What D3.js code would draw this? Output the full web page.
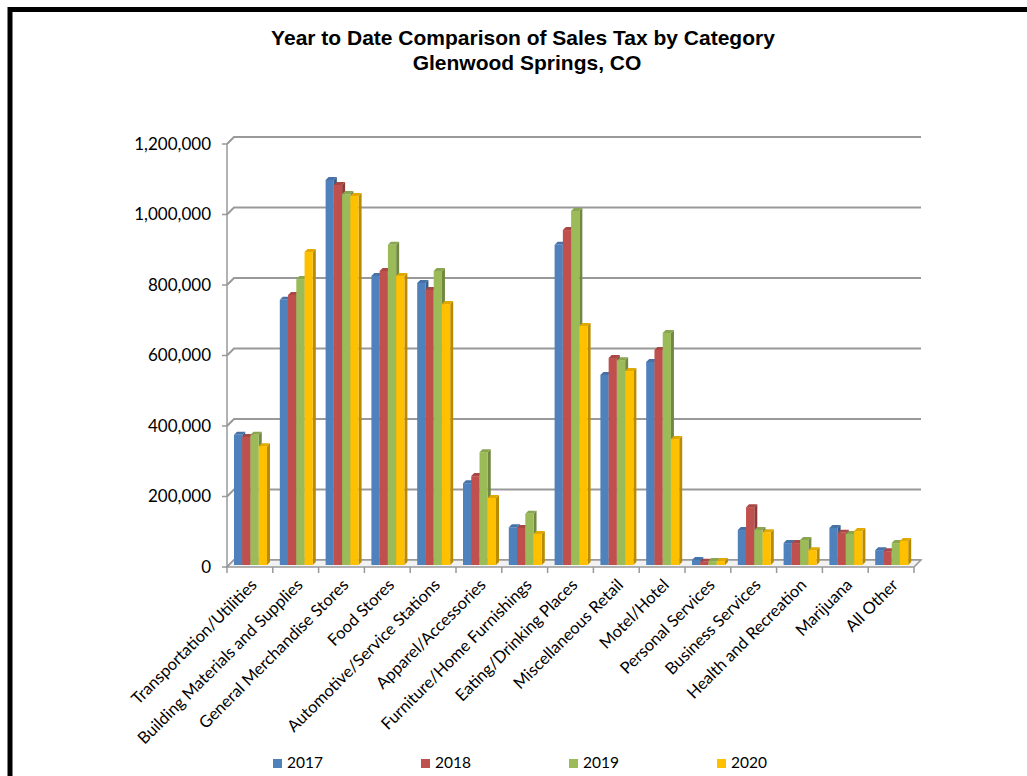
<!DOCTYPE html>
<html>
<head>
<meta charset="utf-8">
<script src="https://cdn.jsdelivr.net/npm/d3@7"></script>
<style>
  body { margin: 0; background: #fff; }
  svg { display: block; }
</style>
</head>
<body>
<div id="chart"></div>
<script>
// data
const categories = [
  "Transportation/Utilities", "Building Materials and Supplies", "General Merchandise Stores",
  "Food Stores", "Automotive/Service Stations", "Apparel/Accessories",
  "Furniture/Home Furnishings", "Eating/Drinking Places", "Miscellaneous Retail",
  "Motel/Hotel", "Personal Services", "Business Services", "Health and Recreation",
  "Marijuana", "All Other"
];
const years = ["2017", "2018", "2019", "2020"];
const sales2017 = [372000, 755000, 1095000, 823000, 803000, 235000, 110000, 911000, 542000, 579000, 17000, 102000, 65000, 108000, 45000];
const sales2018 = [366000, 769000, 1081000, 837000, 783000, 255000, 108000, 953000, 590000, 613000, 12000, 167000, 65000, 94000, 42000];
const sales2019 = [372000, 814000, 1055000, 911000, 837000, 323000, 148000, 1007000, 584000, 661000, 14000, 102000, 74000, 91000, 65000];
const sales2020 = [340000, 891000, 1050000, 823000, 743000, 193000, 91000, 681000, 553000, 360000, 14000, 96000, 45000, 99000, 71000];
const yTicks = [0, 200000, 400000, 600000, 800000, 1000000, 1200000];
const colors = ["#4F81BD", "#C0504D", "#9BBB59", "#FFC000"];

const series = [sales2017, sales2018, sales2019, sales2020];

const width = 1027, height = 776;
const depth = 7;     // 3D wall depth
const barDepth = 3;  // 3D bar depth

const svg = d3.select("#chart").append("svg")
  .attr("width", width)
  .attr("height", height);

svg.append("rect").attr("width", width).attr("height", height).attr("fill", "#fff");

// black frame (only top and left edges show in the reference)
svg.append("path")
  .attr("d", `M10,${height + 5} L10,9.5 L${width + 5},9.5`)
  .attr("fill", "none")
  .attr("stroke", "#000")
  .attr("stroke-width", 5);

// title
const title = svg.append("text")
  .attr("text-anchor", "middle")
  .attr("font-family", "Liberation Sans, Arial, sans-serif")
  .attr("font-weight", "bold")
  .attr("font-size", 21)
  .attr("fill", "#000");
title.append("tspan").attr("x", 523).attr("y", 45).text("Year to Date Comparison of Sales Tax by Category");
title.append("tspan").attr("x", 527).attr("y", 70).text("Glenwood Springs, CO");

const x = d3.scaleBand().domain(categories).range([227, 914]);
const xs = d3.scaleBand().domain(years).range([7, 40]);
const y = d3.scaleLinear().domain([0, 1200000]).range([567, 144]);

const gridColor = "#999";

// back wall gridlines
svg.append("g")
  .selectAll("path")
  .data(yTicks)
  .join("path")
  .attr("d", d => `M${x.range()[0]},${y(d)} L${x.range()[0] + depth},${y(d) - depth} L${x.range()[1] + depth},${y(d) - depth}`)
  .attr("fill", "none")
  .attr("stroke", gridColor)
  .attr("stroke-width", 2);

// floor
const x0 = x.range()[0], x1 = x.range()[1], y0 = y(0);
svg.append("path")
  .attr("d", `M${x0},${y0} L${x1},${y0} L${x1 + depth},${y0 - depth} L${x0 + depth},${y0 - depth} Z`)
  .attr("fill", "#f2f2f2")
  .attr("stroke", gridColor)
  .attr("stroke-width", 1.5);

// front vertical axis line
svg.append("line")
  .attr("x1", x0).attr("x2", x0)
  .attr("y1", y(1200000)).attr("y2", y0)
  .attr("stroke", gridColor)
  .attr("stroke-width", 1.5);

// y ticks + labels
const yAxis = svg.append("g");
yAxis.selectAll("line")
  .data(yTicks)
  .join("line")
  .attr("x1", x0 - 5).attr("x2", x0)
  .attr("y1", d => y(d)).attr("y2", d => y(d))
  .attr("stroke", gridColor)
  .attr("stroke-width", 1.5);
yAxis.selectAll("text")
  .data(yTicks)
  .join("text")
  .attr("x", 211)
  .attr("y", d => y(d))
  .attr("dy", "0.35em")
  .attr("text-anchor", "end")
  .attr("font-family", "Lato, sans-serif")
  .attr("font-size", 17)
  .attr("fill", "#000")
  .text(d => d3.format(",")(d));

// x ticks
svg.append("g")
  .selectAll("line")
  .data(d3.range(categories.length + 1))
  .join("line")
  .attr("x1", i => x0 + i * x.step()).attr("x2", i => x0 + i * x.step())
  .attr("y1", y0).attr("y2", y0 + 6)
  .attr("stroke", gridColor)
  .attr("stroke-width", 1.5);

// bars
const barG = svg.append("g");
categories.forEach((cat, ci) => {
  years.forEach((yr, si) => {
    const v = series[si][ci];
    const bx = x(cat) + xs(yr);
    const bw = xs.bandwidth();
    const top = y(v) - 1;
    const bot = y0 - 2;
    const c = d3.color(colors[si]);
    const g = barG.append("g");
    // side face
    g.append("path")
      .attr("d", `M${bx + bw},${top} L${bx + bw + barDepth},${top - barDepth} L${bx + bw + barDepth},${bot - barDepth} L${bx + bw},${bot} Z`)
      .attr("fill", c.darker(0.9));
    // top face
    g.append("path")
      .attr("d", `M${bx},${top} L${bx + barDepth},${top - barDepth} L${bx + bw + barDepth},${top - barDepth} L${bx + bw},${top} Z`)
      .attr("fill", c.darker(0.35));
    // front face
    g.append("rect")
      .attr("x", bx).attr("y", top)
      .attr("width", bw).attr("height", Math.max(0, bot - top))
      .attr("fill", c);
  });
});

// category labels, rotated
svg.append("g")
  .selectAll("text")
  .data(categories)
  .join("text")
  .attr("transform", d => `translate(${x(d) + x.bandwidth() / 2 + 8},${y0 + 19}) rotate(-45)`)
  .attr("text-anchor", "end")
  .attr("font-family", "Lato, sans-serif")
  .attr("font-size", 16.5)
  .attr("fill", "#000")
  .text(d => d);

// legend
const legend = svg.append("g")
  .selectAll("g")
  .data(years)
  .join("g")
  .attr("transform", (d, i) => `translate(${273 + i * 148},763)`);
legend.append("rect")
  .attr("x", 0).attr("y", -4)
  .attr("width", 9).attr("height", 9)
  .attr("fill", (d, i) => colors[i]);
legend.append("text")
  .attr("x", 14).attr("y", 0)
  .attr("dy", "0.35em")
  .attr("font-family", "Lato, sans-serif")
  .attr("font-size", 15.5)
  .attr("fill", "#000")
  .text(d => d);
</script>
</body>
</html>
